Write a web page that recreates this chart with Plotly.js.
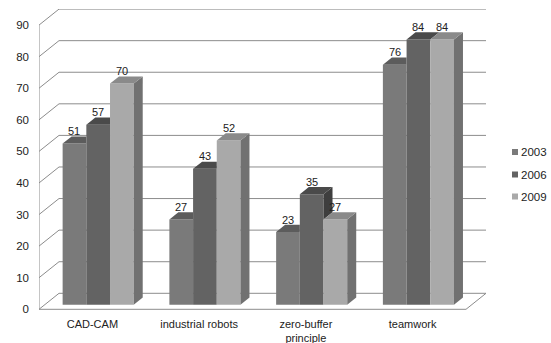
<!DOCTYPE html>
<html>
<head>
<meta charset="utf-8">
<script src="https://cdn.plot.ly/plotly-3.0.1.min.js"></script>
<style>
  html, body { margin: 0; padding: 0; background: #ffffff; }
  #chart { width: 551px; height: 343px; }
</style>
</head>
<body>
<div id="chart"></div>
<script>
// Survey results per topic, three survey years
const categories = ['CAD-CAM', 'industrial robots', 'zero-buffer<br>principle', 'teamwork'];
const years = ['2003', '2006', '2009'];
const values2003 = [51, 27, 23, 76];
const values2006 = [57, 43, 35, 84];
const values2009 = [70, 52, 27, 84];
const yTicks = [0, 10, 20, 30, 40, 50, 60, 70, 80, 90];

const seriesValues = [values2003, values2006, values2009];

// Face colours: front, top, right side
const frontColors = ['#7a7a7a', '#636363', '#a9a9a9'];
const topColors = ['#5c5c5c', '#4a4a4a', '#8a8a8a'];
const sideColors = ['#555555', '#3e3e3e', '#717171'];
const gridColor = '#8c8c8c';
const fontFamily = 'Liberation Sans, Arial, sans-serif';

// Geometry of the pseudo-3D box (pixel based)
const W = 551, H = 343;
const margin = { l: 39, r: 65, t: 9, b: 33 };
const plotW = W - margin.l - margin.r;
const plotH = H - margin.t - margin.b;
const depthPxX = 20, depthPxY = 16;
const xUnitPx = (plotW - depthPxX) / categories.length;
const depthX = depthPxX / xUnitPx;
const yUnitPx = 3.158;
const yLo = -0.7 / yUnitPx;
const yHi = yLo + plotH / yUnitPx;
const depthY = depthPxY / yUnitPx;

const xFront0 = -0.5, xFront1 = categories.length - 0.5;
const bargap = 0.334;
const barW = (1 - bargap) / years.length;
const barFront = 0.29, barDepth = 0.45;
const bx = barFront * depthX, by = barFront * depthY;
const dxb = barDepth * depthX, dyb = barDepth * depthY;

const catIdx = categories.map((_, i) => i);

const traces = years.map((yr, s) => ({
  type: 'bar',
  name: yr,
  x: catIdx.map(c => c + bx),
  y: seriesValues[s],
  base: seriesValues[s].map(() => by),
  marker: { color: frontColors[s], line: { width: 0 } },
  showlegend: false,
  hoverinfo: 'skip'
}));

const shapes = [];
const line = (x0, y0, x1, y1) => ({
  type: 'line', xref: 'x', yref: 'y', x0, y0, x1, y1,
  line: { color: gridColor, width: 1 }, layer: 'below'
});

// Walls and floor
yTicks.forEach(v => {
  shapes.push(line(xFront0, v, xFront0 + depthX, v + depthY));
  shapes.push(line(xFront0 + depthX, v + depthY, xFront1 + depthX, v + depthY));
});
shapes.push(line(xFront0, 0, xFront0, yTicks[yTicks.length - 1]));
shapes.push(line(xFront0, 0, xFront1, 0));
shapes.push(line(xFront1, 0, xFront1 + depthX, depthY));

// Side and top faces of the columns, painted left to right
const annotations = [];
catIdx.forEach(c => {
  years.forEach((yr, s) => {
    const v = seriesValues[s][c];
    const vNext = s < years.length - 1 ? seriesValues[s + 1][c] : null;
    const xl = c + bx + (s - (years.length - 1) / 2 - 0.5) * barW;
    const xr = xl + barW;
    const yt = by + v;
    const path = pts => 'M' + pts.map(p => p[0] + ',' + p[1]).join('L') + 'Z';

    // right side face (hidden by the neighbouring column up to its height)
    const lo = vNext === null ? by : by + vNext;
    if (yt > lo) {
      shapes.push({
        type: 'path', xref: 'x', yref: 'y', layer: 'above',
        path: path([[xr, lo], [xr, yt], [xr + dxb, yt + dyb], [xr + dxb, lo + dyb]]),
        fillcolor: sideColors[s], line: { width: 0 }
      });
    }
    // top face
    const topPts = (vNext !== null && vNext > v)
      ? [[xl, yt], [xr, yt], [xr, yt + dyb], [xl + dxb, yt + dyb]]
      : [[xl, yt], [xr, yt], [xr + dxb, yt + dyb], [xl + dxb, yt + dyb]];
    shapes.push({
      type: 'path', xref: 'x', yref: 'y', layer: 'above',
      path: path(topPts), fillcolor: topColors[s], line: { width: 0 }
    });

    annotations.push({
      xref: 'x', yref: 'y', x: xl + barW / 2, y: yt, yshift: 12.5,
      xanchor: 'center', yanchor: 'middle', showarrow: false,
      text: String(v), font: { family: fontFamily, size: 11, color: '#222222' }
    });
  });
});

// Legend on the right
const legendPx = [152, 174.5, 196.5];
years.forEach((yr, s) => {
  const yc = (H - margin.b - legendPx[s]) / plotH;
  const half = 3 / plotH;
  shapes.push({
    type: 'rect', xref: 'paper', yref: 'paper',
    x0: (512 - margin.l) / plotW, x1: (518 - margin.l) / plotW,
    y0: yc - half, y1: yc + half,
    fillcolor: frontColors[s], line: { width: 0 }
  });
  annotations.push({
    xref: 'paper', yref: 'paper', x: (519 - margin.l) / plotW, y: yc,
    xanchor: 'left', yanchor: 'middle', showarrow: false,
    text: yr, font: { family: fontFamily, size: 11.5, color: '#222222' }
  });
});

const layout = {
  width: W, height: H, margin: margin,
  paper_bgcolor: '#ffffff', plot_bgcolor: '#ffffff',
  barmode: 'group', bargap: bargap, bargroupgap: 0,
  showlegend: false,
  font: { family: fontFamily, size: 11, color: '#222222' },
  xaxis: {
    range: [xFront0, xFront1 + depthX],
    tickvals: catIdx, ticktext: categories,
    showgrid: false, zeroline: false, showline: false, ticks: '',
    ticklabelstandoff: 6,
    tickfont: { family: fontFamily, size: 11, color: '#222222' }
  },
  yaxis: {
    range: [yLo, yHi],
    tickvals: yTicks, ticktext: yTicks.map(String),
    showgrid: false, zeroline: false, showline: false, ticks: '',
    ticklabelstandoff: 9,
    tickfont: { family: fontFamily, size: 11.5, color: '#222222' }
  },
  shapes: shapes,
  annotations: annotations
};

Plotly.newPlot('chart', traces, layout, { staticPlot: true, displayModeBar: false });
</script>
</body>
</html>
